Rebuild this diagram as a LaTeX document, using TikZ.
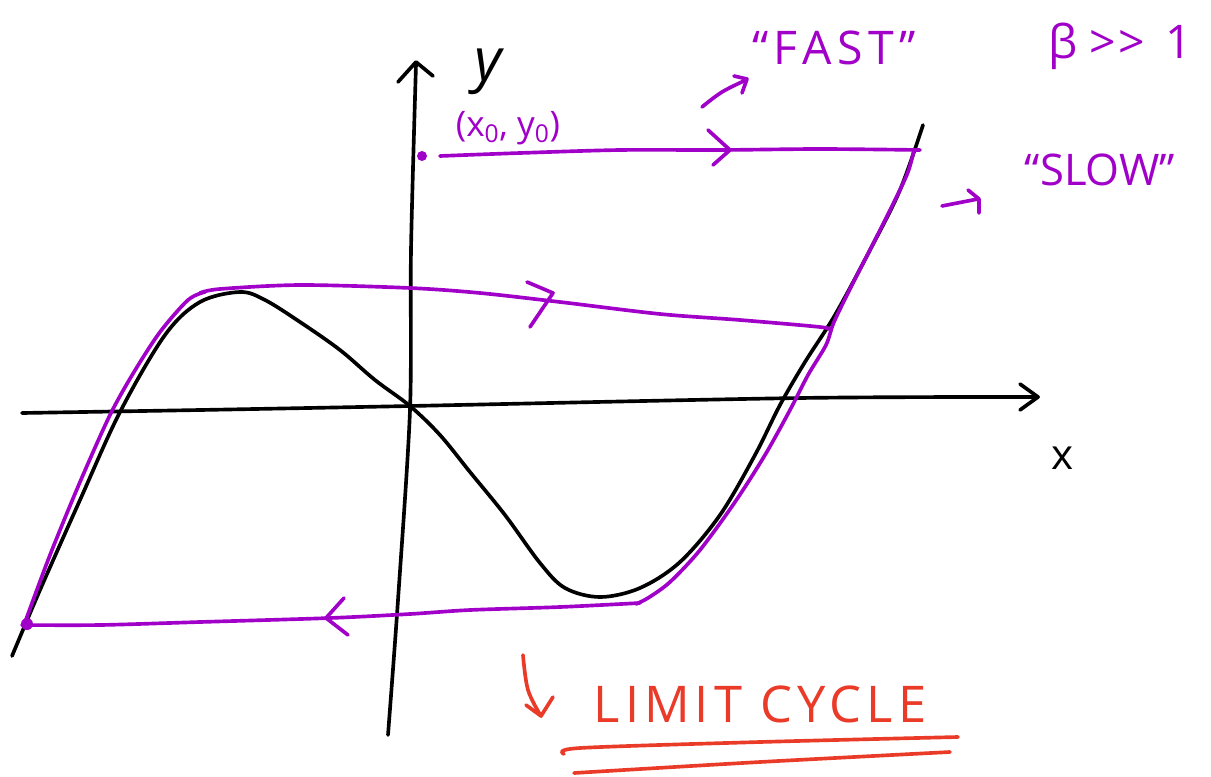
\documentclass[tikz,border=0pt]{standalone}
\usepackage{fontspec}
\setmainfont{Open Sans}
\definecolor{pur}{RGB}{160,0,200}
\definecolor{lcred}{RGB}{234,58,40}
\begin{document}
\begin{tikzpicture}[x=0.25mm,y=-0.25mm,
  ink/.style={line width=2.6pt, line cap=round, line join=round},
  blackink/.style={ink, black},
  purink/.style={ink, pur},
  redink/.style={ink, lcred},
  lbl/.style={inner sep=0pt, anchor=center}]
\useasboundingbox (0,0) rectangle (1211,776);
% axes
\draw[blackink] plot[smooth, tension=0.5] coordinates {(22,413) (200,410) (410,406) (800,398) (1038,397)};
\draw[blackink] (1020,384) -- (1038,397) -- (1020,410);
\draw[blackink] plot[smooth, tension=0.5] coordinates {(388,735) (398,600) (410,410) (411,250) (416,64)};
\draw[blackink] (398,82) -- (416,62) -- (433,76);
\node[lbl, font=\fontsize{42}{50}\selectfont\itshape] (ylab) at (488,72) {y};
\node[lbl, font=\fontsize{30}{36}\selectfont] (xlab) at (1063,458) {x};
% cubic nullcline
\draw[blackink] plot[smooth, tension=0.55] coordinates {(12,656) (40,590) (80,500) (120,412) (165,335) (200,302) (240,292) (265,300) (300,322) (340,350) (375,380) (410,406) (440,435) (470,472) (505,515) (540,563) (565,588) (600,597) (640,588) (680,562) (720,515) (755,455) (780,405) (805,362) (835,315) (870,250) (900,190) (923,125)};
% limit cycle / trajectory
\fill[pur] (422,156) circle (5);
\draw[purink] plot[smooth, tension=0.5] coordinates {(440,156) (520,153) (620,150) (720,150) (820,149) (920,150)};
\draw[purink] plot[smooth, tension=0.5] coordinates {(914,150) (908,172) (895,200) (875,240) (852,285) (834,322) (826,345) (808,375) (790,410) (765,455) (735,502) (700,550) (670,582) (648,598) (636,604)};
\draw[purink] plot[smooth, tension=0.5] coordinates {(830,330) (820,327) (740,320) (660,314) (560,302) (480,293) (410,288) (300,285) (220,289) (200,293)};
\draw[purink] plot[smooth, tension=0.5] coordinates {(205,292) (188,300) (160,332) (134,372) (110,415) (80,482) (50,555) (24,625)};
\draw[purink] plot[smooth, tension=0.5] coordinates {(22,625) (100,625) (200,622) (330,618) (410,614) (470,610) (560,607) (640,603)};
\fill[pur] (27,624) circle (6);
% direction chevrons
\draw[purink] (708,130) -- (730,150) -- (713,165);
\draw[purink] (527,282) -- (553,293) -- (530,327);
\draw[purink] (344,598) -- (326,618) -- (348,635);
% labels
\node[lbl, text=pur, font=\fontsize{25}{30}\selectfont] (x0y0) at (508,128) {(x\textsubscript{0}, y\textsubscript{0})};
\draw[purink] plot[smooth, tension=0.6] coordinates {(702,107) (722,92) (746,80)};
\draw[purink] (734,76) -- (747,79) -- (742,93);
\node[lbl, text=pur, font=\fontsize{33}{40}\selectfont\addfontfeature{LetterSpace=12}] (fast) at (834,48) {“FAST”};
\node[lbl, text=pur, font=\fontsize{33}{40}\selectfont] (beta) at (1120,46) {β {>}\kern2pt{>}\kern14pt 1};
\draw[purink] (942,206) -- (978,199);
\draw[purink] (968,190) -- (979,199) -- (979,213);
\node[lbl, text=pur, font=\fontsize{31}{38}\selectfont] (slow) at (1100,170) {“SLOW”};
% limit cycle label
\draw[redink] plot[smooth, tension=0.6] coordinates {(523,655) (528,690) (541,716)};
\draw[redink] (526,705) -- (541,716) -- (553,697);
\node[lbl, text=lcred, font=\fontsize{36}{44}\selectfont\addfontfeature{LetterSpace=10}] (lc) at (760,704) {LIMIT CYCLE};
\draw[redink] plot[smooth, tension=0.5] coordinates {(564,754) (580,748) (760,742) (958,737)};
\draw[redink] plot[smooth, tension=0.5] coordinates {(574,773) (760,762) (950,752)};
\end{tikzpicture}
\end{document}
